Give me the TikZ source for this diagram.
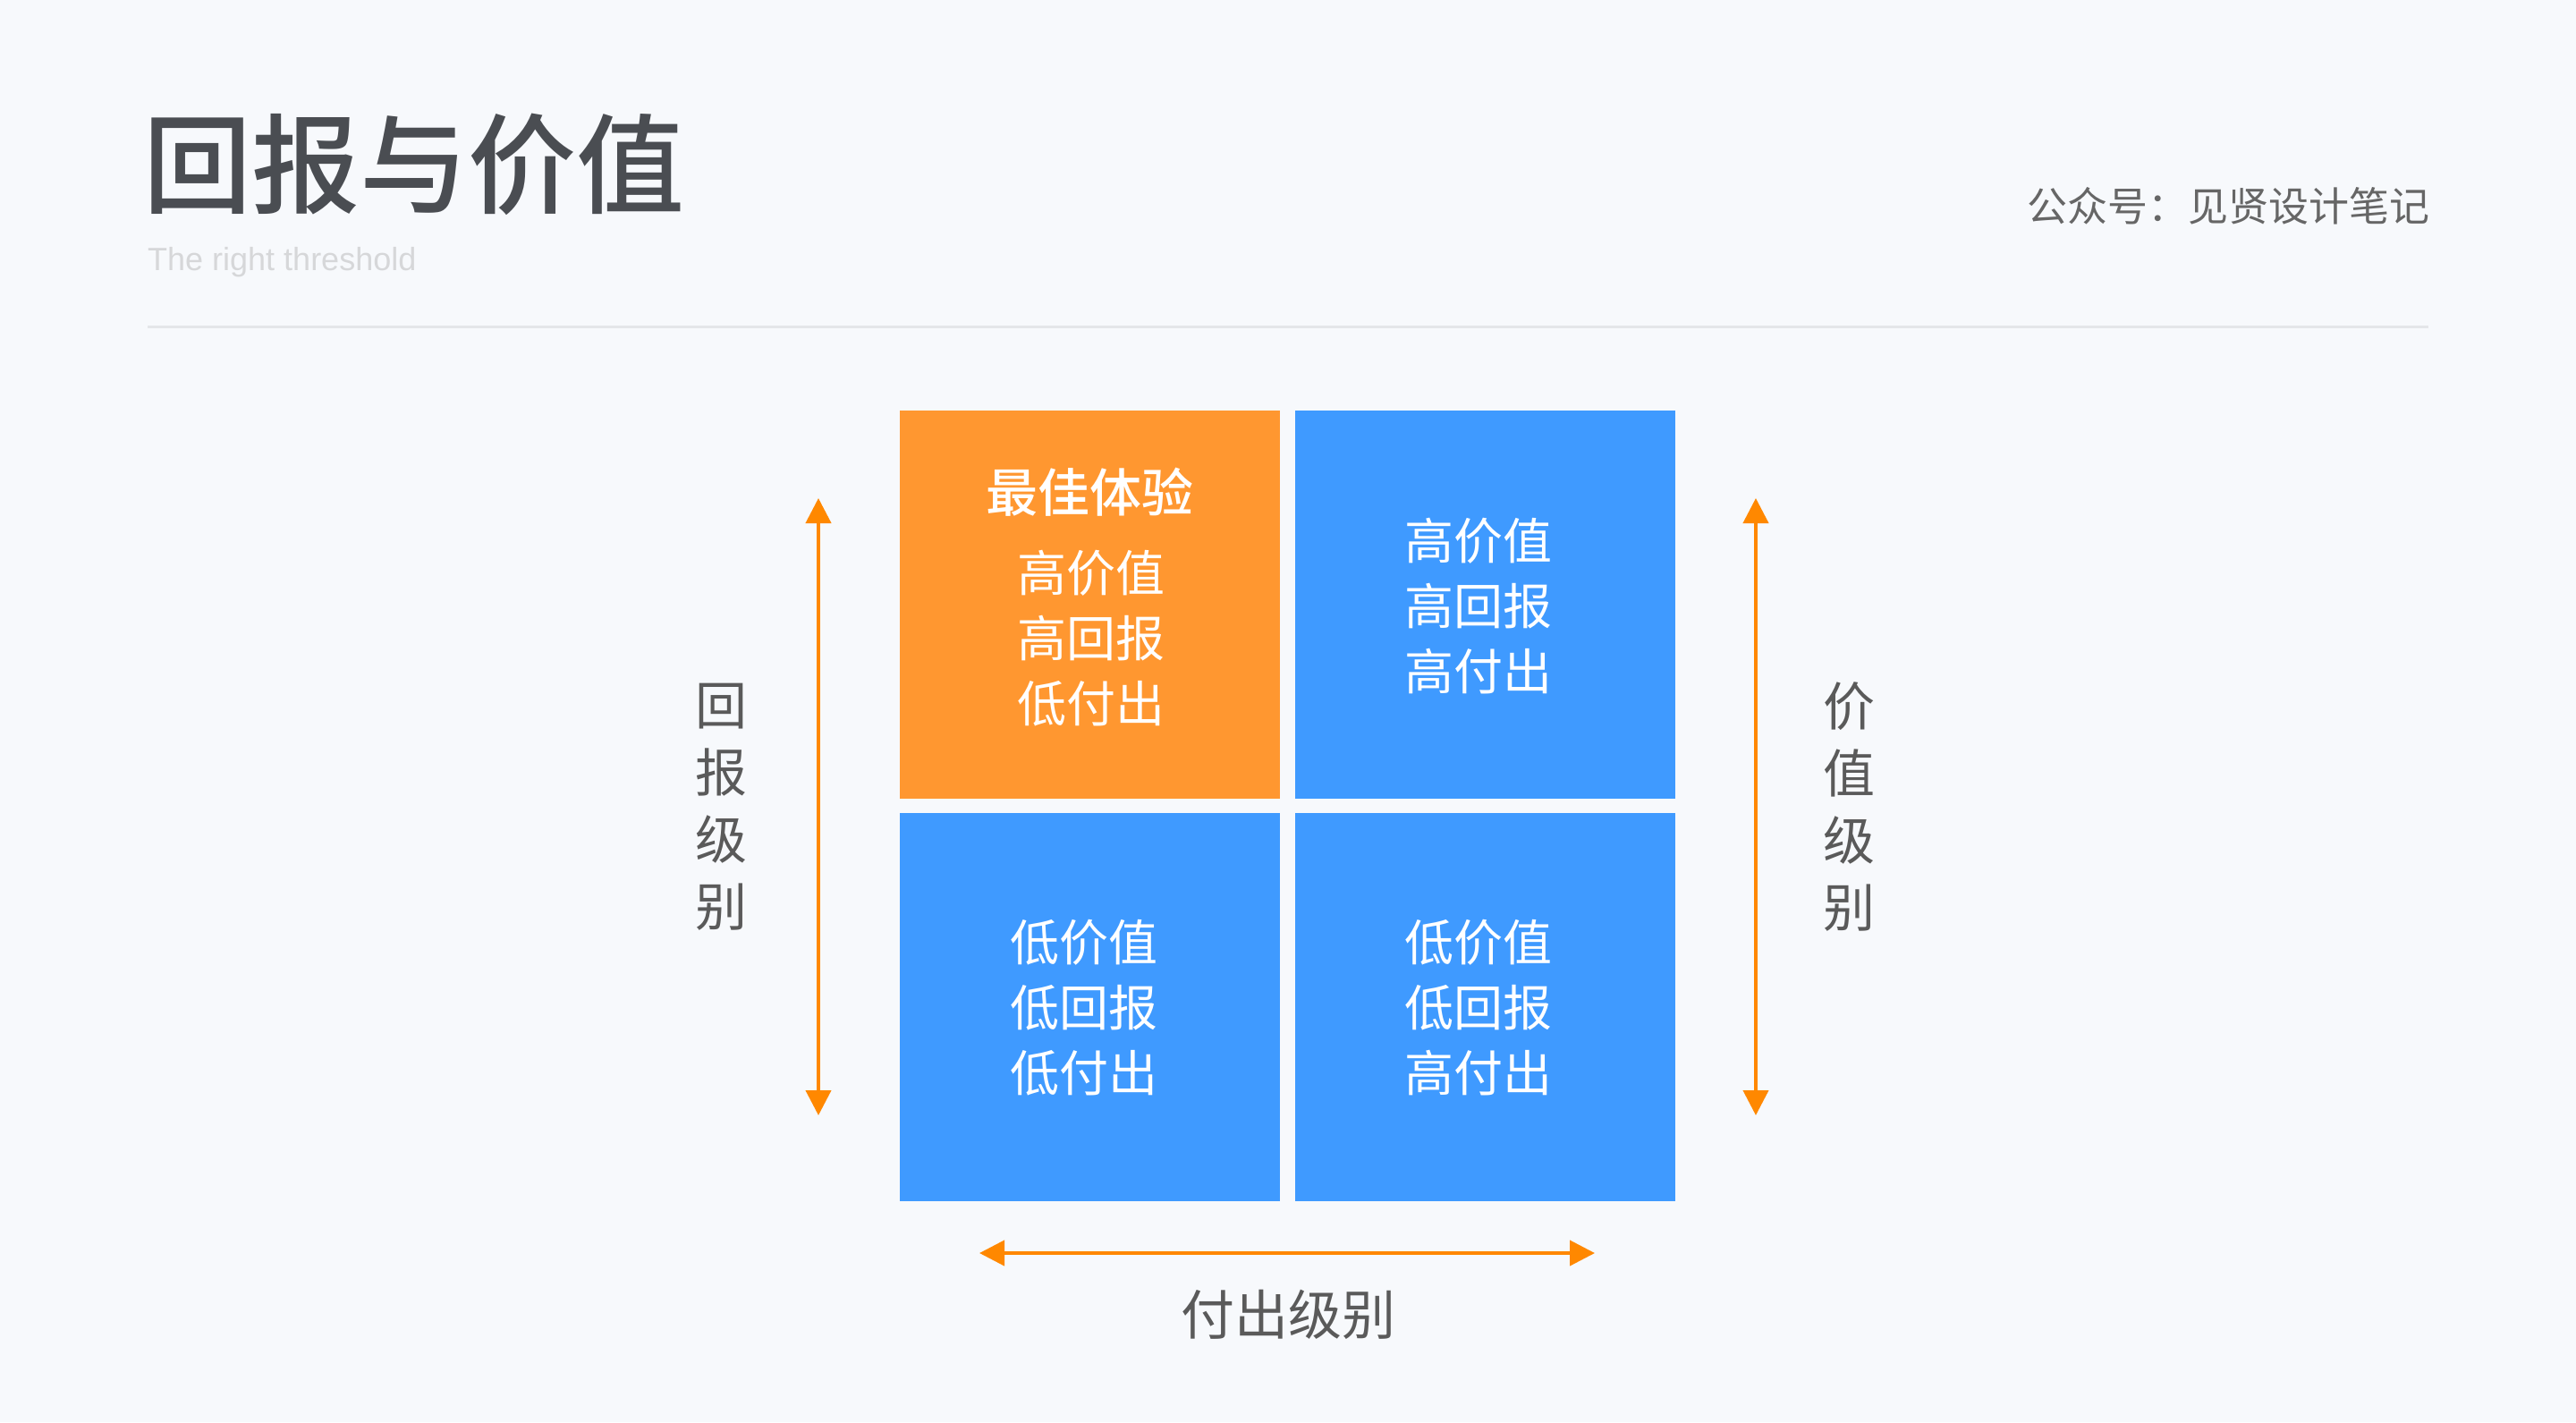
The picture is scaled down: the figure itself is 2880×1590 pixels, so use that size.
\documentclass[tikz,border=0pt]{standalone}
\usepackage{fontspec}
\setmainfont{Noto Sans CJK SC}
\newfontfamily\cjk{Noto Sans CJK SC}
\newfontfamily\cjkmed{Noto Sans CJK SC Medium}
\newfontfamily\latinsans{Liberation Sans}
\usetikzlibrary{arrows.meta}
\definecolor{bgc}{HTML}{F7F9FC}
\definecolor{titlec}{HTML}{4A4D52}
\definecolor{subc}{HTML}{D6D7D9}
\definecolor{rulec}{HTML}{E4E6E9}
\definecolor{headc}{HTML}{666666}
\definecolor{orangeq}{HTML}{FF9730}
\definecolor{blueq}{HTML}{3F9AFF}
\definecolor{arrowc}{HTML}{FF8800}
\definecolor{labelc}{HTML}{5A5A5A}
\tikzset{
  quad/.style={draw=none, minimum width=425pt, minimum height=434pt, inner sep=0pt},
  qtext/.style={text=white, inner sep=0pt, align=center, font=\cjk\fontsize{55}{73}\selectfont},
  qhead/.style={text=white, inner sep=0pt, font=\cjkmed\fontsize{58}{58}\selectfont},
  axisarrow/.style={draw=arrowc, line width=4pt, {Triangle[width=28pt,length=28pt]}-{Triangle[width=28pt,length=28pt]}},
  axislabel/.style={text=labelc, inner sep=0pt, align=center, font=\cjk\fontsize{58}{75}\selectfont},
}
\begin{document}
\begin{tikzpicture}[x=1pt,y=-1pt]
\fill[bgc] (0,0) rectangle (2880,1590);
\useasboundingbox (0,0) rectangle (2880,1590);

% header
\node[anchor=west, inner sep=0pt, text=titlec, font=\cjkmed\fontsize{121}{121}\selectfont] (title) at (160,184) {回报与价值};
\node[anchor=west, inner sep=0pt, text=subc, font=\latinsans\fontsize{36}{36}\selectfont] (subtitle) at (165,293) {The right threshold};
\node[anchor=east, inner sep=0pt, text=headc, font=\cjk\fontsize{45}{45}\selectfont] (account) at (2717,230) {公众号：见贤设计笔记};
\coordinate (ruleL) at (165,365);
\coordinate (ruleR) at (2715,365);
\draw[rulec, line width=3pt] (ruleL) -- (ruleR);

% quadrants
\node[quad, fill=orangeq] (q1) at (1218.5,676) {};
\node[quad, fill=blueq] (q2) at (1660.5,676) {};
\node[quad, fill=blueq] (q3) at (1218.5,1126) {};
\node[quad, fill=blueq] (q4) at (1660.5,1126) {};

\node[qhead] (q1h) at (1218,550) {最佳体验};
\node[qtext] (q1t) at (1220,714) {高价值\\高回报\\低付出};
\node[qtext] (q2t) at (1653,678) {高价值\\高回报\\高付出};
\node[qtext] (q3t) at (1212,1127) {低价值\\低回报\\低付出};
\node[qtext] (q4t) at (1653,1127) {低价值\\低回报\\高付出};

% axes
\coordinate (lt) at (915,557);
\coordinate (lb) at (915,1247);
\coordinate (rt) at (1963,557);
\coordinate (rb) at (1963,1247);
\coordinate (bl) at (1095,1401);
\coordinate (br) at (1783,1401);
\draw[axisarrow] (lt) -- (lb);
\draw[axisarrow] (rt) -- (rb);
\draw[axisarrow] (bl) -- (br);

\node[axislabel] (ll) at (806,902) {回\\报\\级\\别};
\node[axislabel] (rl) at (2067,902) {价\\值\\级\\别};
\node[axislabel, font=\cjk\fontsize{60}{60}\selectfont] (bll) at (1440,1470) {付出级别};
\end{tikzpicture}
\end{document}
